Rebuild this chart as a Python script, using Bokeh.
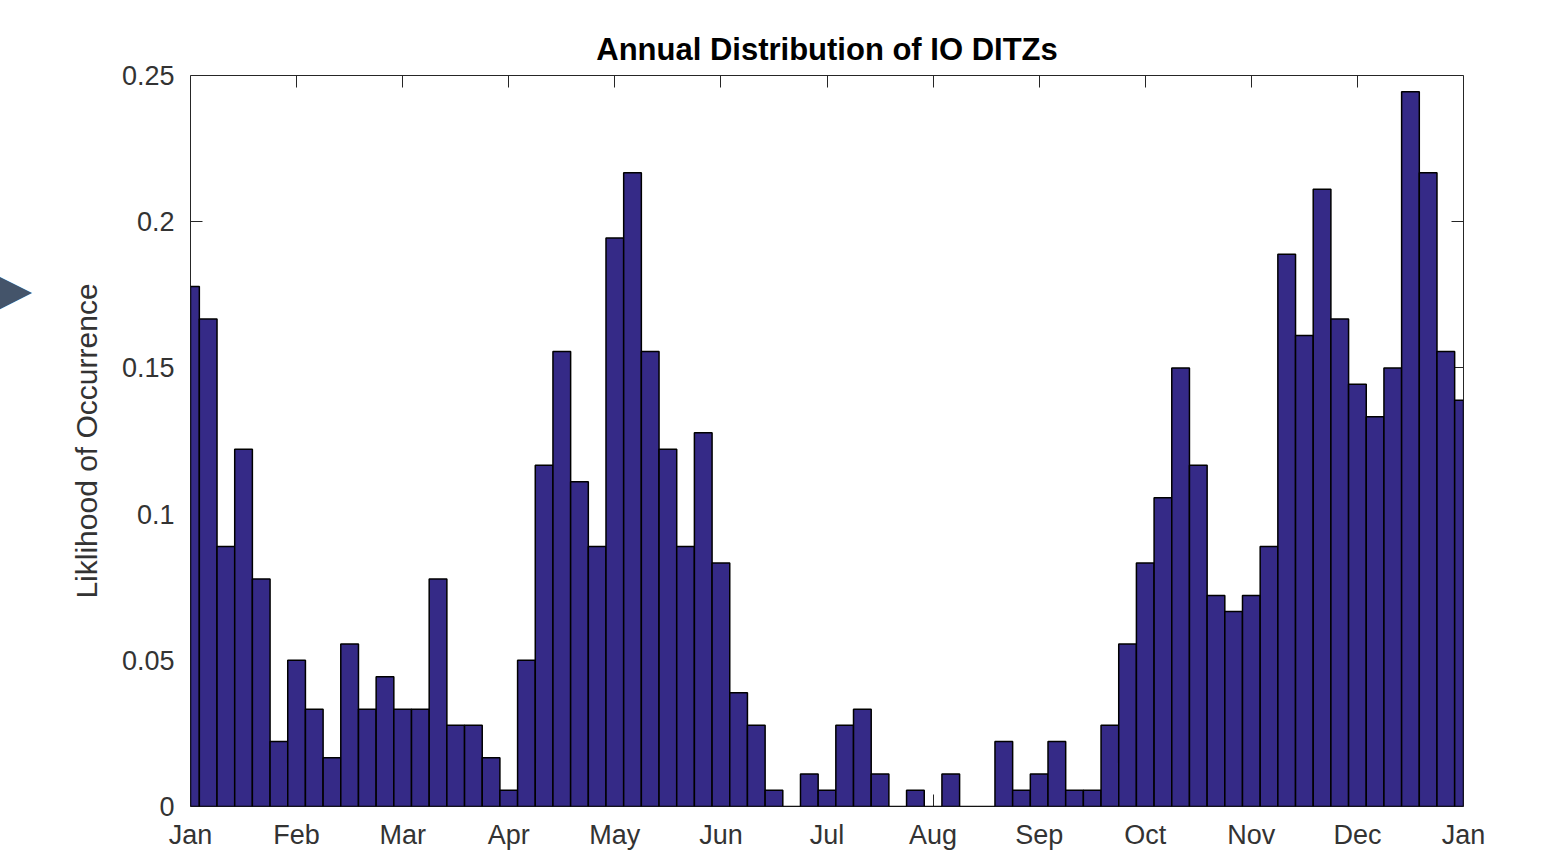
from bokeh.plotting import figure
from bokeh.models import LinearAxis, FixedTicker, Range1d, Label, ColumnDataSource
from bokeh.embed import file_html
from bokeh.resources import INLINE

# ---- data ----
month_labels = ["Jan", "Feb", "Mar", "Apr", "May", "Jun", "Jul",
                "Aug", "Sep", "Oct", "Nov", "Dec", "Jan"]
month_ticks = [1, 2, 3, 4, 5, 6, 7, 8, 9, 10, 11, 12, 13]
bins_per_month = 6
likelihood = [
    0.1778, 0.1667, 0.0889, 0.1222, 0.0778, 0.0222, 0.0500, 0.0333, 0.0167, 0.0556,
    0.0333, 0.0444, 0.0333, 0.0333, 0.0778, 0.0278, 0.0278, 0.0167, 0.0056, 0.0500,
    0.1167, 0.1556, 0.1111, 0.0889, 0.1944, 0.2167, 0.1556, 0.1222, 0.0889, 0.1278,
    0.0833, 0.0389, 0.0278, 0.0056, 0.0000, 0.0111, 0.0056, 0.0278, 0.0333, 0.0111,
    0.0000, 0.0056, 0.0000, 0.0111, 0.0000, 0.0000, 0.0222, 0.0056, 0.0111, 0.0222,
    0.0056, 0.0056, 0.0278, 0.0556, 0.0833, 0.1056, 0.1500, 0.1167, 0.0722, 0.0667,
    0.0722, 0.0889, 0.1889, 0.1611, 0.2111, 0.1667, 0.1444, 0.1333, 0.1500, 0.2444,
    0.2167, 0.1556, 0.1389,
]
y_ticks = [0, 0.05, 0.1, 0.15, 0.2, 0.25]
y_tick_labels = ["0", "0.05", "0.1", "0.15", "0.2", "0.25"]

bin_centers = [month_ticks[0] + i / bins_per_month for i in range(len(likelihood))]
source = ColumnDataSource(data=dict(x=bin_centers, top=likelihood))

AX = "#262626"
FONT = "Liberation Sans"

p = figure(width=1552, height=852,
           x_range=Range1d(month_ticks[0], month_ticks[-1]),
           y_range=Range1d(y_ticks[0], y_ticks[-1]),
           x_axis_location=None, y_axis_location=None,
           output_backend="svg", toolbar_location=None,
           min_border_left=190, min_border_right=89,
           min_border_top=75, min_border_bottom=46,
           background_fill_color="white", border_fill_color="white")
p.outline_line_color = AX
p.outline_line_width = 1
p.xgrid.visible = False
p.ygrid.visible = False

p.vbar(x="x", top="top", width=1 / bins_per_month, bottom=0, source=source,
       fill_color="#352A87", line_color="black", line_width=1.5)


def tick_axis(ticks):
    """Inward ticks drawn beneath the bars (no line, no labels)."""
    ax = LinearAxis(ticker=FixedTicker(ticks=ticks))
    ax.level = "underlay"
    ax.axis_line_color = None
    ax.major_tick_line_color = AX
    ax.major_tick_in = 12
    ax.major_tick_out = 0
    ax.minor_tick_line_color = None
    ax.major_label_standoff = 0
    ax.major_label_text_font_size = "0px"
    ax.major_label_text_color = None
    return ax


def label_axis(ticks, labels, standoff):
    ax = LinearAxis(ticker=FixedTicker(ticks=ticks))
    ax.major_label_overrides = {t: l for t, l in zip(ticks, labels)}
    ax.axis_line_color = None
    ax.major_tick_line_color = None
    ax.major_tick_in = 0
    ax.major_tick_out = 0
    ax.minor_tick_line_color = None
    ax.major_label_text_font = FONT
    ax.major_label_text_font_size = "27px"
    ax.major_label_text_color = "#333333"
    ax.major_label_standoff = standoff
    return ax


# bottom
p.add_layout(tick_axis(month_ticks), "below")
p.add_layout(label_axis(month_ticks, month_labels, 13), "below")

# left
p.add_layout(tick_axis(y_ticks), "left")
ya = label_axis(y_ticks, y_tick_labels, 16)
ya.axis_label = "Liklihood of Occurrence"
ya.axis_label_text_font = FONT
ya.axis_label_text_font_size = "30px"
ya.axis_label_text_font_style = "normal"
ya.axis_label_text_color = "#333333"
ya.axis_label_standoff = 16
p.add_layout(ya, "left")

# top & right box ticks
p.add_layout(tick_axis(month_ticks), "above")
p.add_layout(tick_axis(y_ticks), "right")

# title
p.title.text = "Annual Distribution of IO DITZs"
p.title.align = "center"
p.title.text_font = FONT
p.title.text_font_size = "31px"
p.title.text_font_style = "bold"
p.title.text_color = "#000000"
p.title.standoff = 17

# slide arrow at the left edge (placed in the left side panel)
p.add_layout(Label(x=14, y=288, x_units="canvas", y_units="canvas",
                   text="\u25B6", text_font="DejaVu Sans", text_font_size="46px",
                   text_color="#44546A", text_align="center",
                   text_baseline="middle"), "left")

open("out.html", "w").write(file_html(p, INLINE))
